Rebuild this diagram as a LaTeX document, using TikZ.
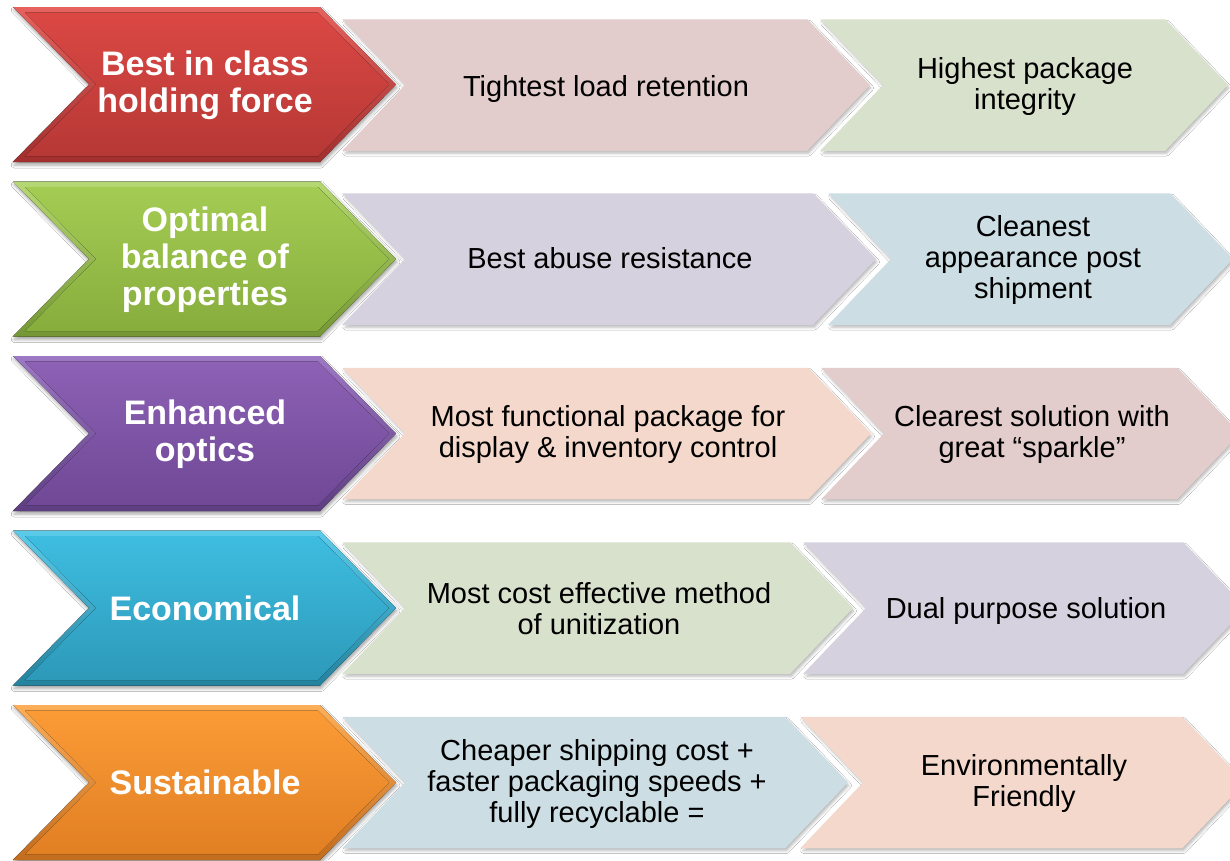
\documentclass[tikz,border=0pt]{standalone}
\usepackage{fontspec}
\setmainfont{Liberation Sans}
\usetikzlibrary{shadows.blur}

% strong colours of the left-hand arrows (hi/lo = bevel, top/bot = face)
\definecolor{redhi}{HTML}{E6625E}\definecolor{redlo}{HTML}{A02F2D}
\definecolor{redtop}{HTML}{DB4844}\definecolor{redbot}{HTML}{B63835}
\definecolor{grnhi}{HTML}{B6D872}\definecolor{grnlo}{HTML}{749634}
\definecolor{grntop}{HTML}{A4CC53}\definecolor{grnbot}{HTML}{87AD3D}
\definecolor{purhi}{HTML}{9D78C4}\definecolor{purlo}{HTML}{5E3D80}
\definecolor{purtop}{HTML}{8D61B5}\definecolor{purbot}{HTML}{6F4896}
\definecolor{aquhi}{HTML}{5CCBEA}\definecolor{aqulo}{HTML}{23829E}
\definecolor{aqutop}{HTML}{3EBDE0}\definecolor{aqubot}{HTML}{2D99B9}
\definecolor{orahi}{HTML}{FCAE58}\definecolor{oralo}{HTML}{C26C1E}
\definecolor{oratop}{HTML}{FB9B36}\definecolor{orabot}{HTML}{E17F23}
% pale tints for the follow-on arrows
\definecolor{palered}{HTML}{E3CCCC}
\definecolor{palegrn}{HTML}{D8E1CC}
\definecolor{palepur}{HTML}{D5D1DE}
\definecolor{paleaqu}{HTML}{CCDDE4}
\definecolor{paleora}{HTML}{F4D8CB}

% chevron outline: left x, top-right x, centre y, half height, point depth
\newcommand{\chev}[5]{(#1,#3-#4) -- (#2,#3-#4) -- (#2+#5,#3) -- (#2,#3+#4)
  -- (#1,#3+#4) -- (#1+#5,#3) -- cycle}
% bevelled head arrow: colour prefix, centre y
\newcommand{\headchev}[2]{%
  \fill[headshadow,top color=#1hi,bottom color=#1lo] \chev{13}{320}{#2}{77.5}{76};
  \fill[top color=#1top,bottom color=#1bot] \chev{25}{318}{#2}{72}{71};}

\tikzset{
  headshadow/.style={blur shadow={shadow xshift=1pt,shadow yshift=-3pt,
      shadow blur radius=3pt,shadow opacity=35}},
  palebox/.style={draw=white,line width=1.5pt,
    blur shadow={shadow xshift=1.5pt,shadow yshift=-3pt,
      shadow blur radius=3pt,shadow opacity=30}},
  headtext/.style={align=center,text=white,inner sep=0pt,
    font=\fontsize{34}{37}\selectfont\bfseries},
  paletext/.style={align=center,text=black,inner sep=0pt,
    font=\fontsize{29}{31}\selectfont},
}

\begin{document}
\begin{tikzpicture}[x=1pt,y=-1pt]
  \useasboundingbox[fill=white] (0,0) rectangle (1230,860);

  % row 1
  \fill[palebox,palegrn] \chev{822}{1165}{85}{65}{62};
  \fill[palebox,palered] \chev{344}{807}{85}{65}{62};
  \headchev{red}{84.5}
  \node[headtext] (best) at (205,85.5) {Best in class\\holding force};
  \node[paletext] (retention) at (606,89) {Tightest load retention};
  \node[paletext] (integrity) at (1025,86) {Highest package\\integrity};

  % row 2
  \fill[palebox,paleaqu] \chev{830}{1170}{259}{65}{62};
  \fill[palebox,palepur] \chev{344}{813}{259}{65}{62};
  \headchev{grn}{259}
  \node[headtext] (optimal) at (205,260) {Optimal\\balance of\\properties};
  \node[paletext] (abuse) at (610,258) {Best abuse resistance};
  \node[paletext] (appearance) at (1033,260) {Cleanest\\appearance post\\shipment};

  % row 3
  \fill[palebox,palered] \chev{823}{1177}{433.5}{65}{62};
  \fill[palebox,paleora] \chev{344}{808}{433.5}{65}{62};
  \headchev{pur}{433.5}
  \node[headtext] (optics) at (205,434.5) {Enhanced\\optics};
  \node[paletext] (functional) at (608,434.5)
    {Most functional package for\\display \& inventory control};
  \node[paletext] (sparkle) at (1032,434.5)
    {Clearest solution with\\great “sparkle”};

  % row 4
  \fill[palebox,palepur] \chev{805}{1183}{608}{65}{62};
  \fill[palebox,palegrn] \chev{344}{790}{608}{65}{62};
  \headchev{aqu}{608}
  \node[headtext] (econ) at (205,608) {Economical};
  \node[paletext] (costeff) at (599,609)
    {Most cost effective method\\of unitization};
  \node[paletext] (dualpurpose) at (1026,611) {Dual purpose solution};

  % row 5
  \fill[palebox,paleora] \chev{802}{1182}{782.5}{65}{62};
  \fill[palebox,paleaqu] \chev{344}{785}{782.5}{65}{62};
  \headchev{ora}{782.5}
  \node[headtext] (sustain) at (205,782.5) {Sustainable};
  \node[paletext] (shipping) at (597,783.5)
    {Cheaper shipping cost +\\faster packaging speeds +\\fully recyclable =};
  \node[paletext] (friendly) at (1024,783.5) {Environmentally\\Friendly};
\end{tikzpicture}
\end{document}
